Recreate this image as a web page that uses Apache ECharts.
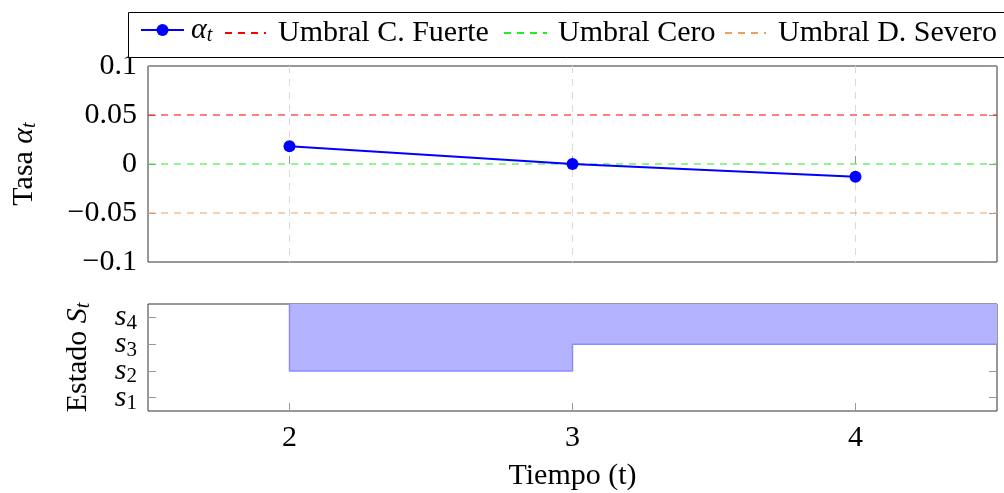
<!DOCTYPE html>
<html>
<head>
<meta charset="utf-8">
<script src="https://cdn.jsdelivr.net/npm/echarts@6/dist/echarts.min.js"></script>
<style>
  html, body { margin: 0; padding: 0; background: #fff; }
  #chart { width: 1004px; height: 493px; }
</style>
</head>
<body>
<div id="chart"></div>
<script>
// tiempo y tasa alpha_t
const times = [2, 3, 4];
const alphaValues = [0.018, 0.0, -0.013];
// umbrales
const thresholdNames = ["Umbral C. Fuerte", "Umbral Cero", "Umbral D. Severo"];
const thresholdValues = [0.05, 0, -0.05];
const thresholdColors = ["#ff0000", "#22ee22", "#eea060"];
// estados S_t (1 = s1 ... 4 = s4)
const stateNames = ["1", "2", "3", "4"];
const stateTimes = [2, 3, 4];
const stateValues = [2, 3, 3];
const xMin = 1.5, xMax = 4.5;
const stateMin = 0.5, stateMax = 4.5;

const FONT = "Liberation Serif";
const FS = 30;
const rich = {
  i: { fontFamily: FONT, fontSize: FS, fontStyle: "italic", color: "#000" },
  sub: { fontFamily: FONT, fontSize: 20, fontStyle: "italic", color: "#000", verticalAlign: "bottom", padding: [12, 0, 0, 0] },
  subn: { fontFamily: FONT, fontSize: 21, color: "#000", verticalAlign: "bottom", padding: [12, 0, 0, 0] },
};

const fmtNum = (v) => {
  const s = String(Number(Math.abs(v).toFixed(3)));
  return v < -1e-9 ? "\u2212" + s : s;
};

const tickStyle = { show: true, inside: true, length: 8, lineStyle: { color: "#999", width: 1 } };

// banda del estado: desde el valor hasta el borde superior del eje
const stateData = [[stateTimes[0], stateMax]]
  .concat(stateTimes.map((t, i) => [t, stateValues[i]]))
  .concat([[xMax, stateValues[stateValues.length - 1]]]);

const series = [
  {
    name: "alpha",
    type: "line",
    xAxisIndex: 0,
    yAxisIndex: 0,
    data: times.map((t, i) => [t, alphaValues[i]]),
    symbol: "circle",
    symbolSize: 12,
    itemStyle: { color: "#0000ff" },
    lineStyle: { color: "#0000ff", width: 2 },
    z: 5,
  },
].concat(
  thresholdValues.map((v, i) => ({
    name: thresholdNames[i],
    type: "line",
    xAxisIndex: 0,
    yAxisIndex: 0,
    data: [[xMin, v], [xMax, v]],
    symbol: "none",
    itemStyle: { color: thresholdColors[i] },
    lineStyle: { color: thresholdColors[i], width: 1.2, type: [7, 6] },
    z: 3,
  }))
);
series.push({
  name: "estado",
  type: "line",
  xAxisIndex: 1,
  yAxisIndex: 4,
  data: stateData,
  step: "end",
  symbol: "none",
  lineStyle: { color: "#8c8cff", width: 1.5 },
  areaStyle: { color: "#b3b3ff", opacity: 1, origin: "end" },
  z: 4,
});

const legendPos = [
  { left: 140, width: 43, pad: 2 },
  { left: 224, width: 41, pad: 7 },
  { left: 503, width: 43, pad: 6 },
  { left: 724, width: 41, pad: 7 },
];
const legendNames = ["alpha"].concat(thresholdNames);
const legends = legendNames.map((name, i) => ({
  data: [i === 0 ? { name: name } : { name: name, itemStyle: { opacity: 0 } }],
  left: legendPos[i].left,
  top: i === 0 ? 15 : 18,
  padding: 0,
  itemWidth: legendPos[i].width,
  itemHeight: 15,
  selectedMode: false,
  z: 10,
  formatter: (n) => (n === "alpha" ? "{i|α}{sub|t}" : n),
  textStyle: { fontFamily: FONT, fontSize: 30, color: "#000", padding: [0, 0, 0, legendPos[i].pad], rich: rich },
}));

const option = {
  animation: false,
  backgroundColor: "#fff",
  textStyle: { fontFamily: FONT },
  legend: legends,
  graphic: [
    {
      type: "rect",
      z: 8,
      shape: { x: 128.5, y: 12.5, width: 900, height: 45 },
      style: { fill: "#fff", stroke: "#000", lineWidth: 1 },
    },
  ],
  grid: [
    { left: 148, right: 7, top: 66, height: 196, show: true, borderColor: "#333", borderWidth: 1 },
    { left: 148, right: 7, top: 304, height: 107, show: true, borderColor: "#333", borderWidth: 1 },
  ],
  xAxis: [
    {
      type: "value", gridIndex: 0, min: xMin, max: xMax,
      axisLine: { show: false },
      axisTick: Object.assign({}, tickStyle, { customValues: times }),
      axisLabel: { show: false, customValues: times },
      splitLine: { show: true, lineStyle: { color: "#dadada", width: 1, type: [7, 6] } },
    },
    {
      type: "value", gridIndex: 1, min: xMin, max: xMax,
      axisLine: { show: false },
      axisTick: Object.assign({}, tickStyle, { customValues: times }),
      axisLabel: { show: true, customValues: times, margin: 12, fontFamily: FONT, fontSize: FS, color: "#000" },
      splitLine: { show: false },
      name: "Tiempo (t)",
      nameLocation: "middle",
      nameGap: 50,
      nameTextStyle: { fontFamily: FONT, fontSize: FS, color: "#000" },
    },
  ],
  yAxis: [
    {
      type: "value", gridIndex: 0, min: -0.1, max: 0.1, interval: 0.05,
      axisLine: { show: false },
      axisTick: tickStyle,
      axisLabel: { margin: 11, fontFamily: FONT, fontSize: FS, color: "#000", formatter: fmtNum },
      splitLine: { show: false },
      name: "Tasa {i|α}{sub|t}",
      nameLocation: "middle",
      nameGap: 108,
      nameTextStyle: { fontFamily: FONT, fontSize: FS, color: "#000", rich: rich },
    },
    {
      type: "value", gridIndex: 0, position: "right", min: -0.1, max: 0.1, interval: 0.05,
      axisLine: { show: false }, axisTick: tickStyle, axisLabel: { show: false }, splitLine: { show: false },
    },
    {
      type: "category", gridIndex: 1, data: stateNames, boundaryGap: true,
      axisLine: { show: false },
      axisTick: Object.assign({}, tickStyle, { alignWithLabel: true, interval: 0 }),
      axisLabel: {
        interval: 0, margin: 11, color: "#000",
        formatter: (v) => "{i|s}{subn|" + v + "}",
        rich: rich,
      },
      splitLine: { show: false },
      name: "Estado {i|S}{sub|t}",
      nameLocation: "middle",
      nameGap: 54,
      nameTextStyle: { fontFamily: FONT, fontSize: FS, color: "#000", rich: rich },
    },
    {
      type: "category", gridIndex: 1, position: "right", data: stateNames, boundaryGap: true,
      axisLine: { show: false },
      axisTick: Object.assign({}, tickStyle, { alignWithLabel: true, interval: 0 }),
      axisLabel: { show: false }, splitLine: { show: false },
    },
    {
      // eje numérico oculto para la banda de estados (s1 = 1 ... s4 = 4)
      type: "value", gridIndex: 1, min: stateMin, max: stateMax, show: false,
    },
  ],
  series: series,
};

echarts.init(document.getElementById("chart")).setOption(option);
</script>
</body>
</html>
